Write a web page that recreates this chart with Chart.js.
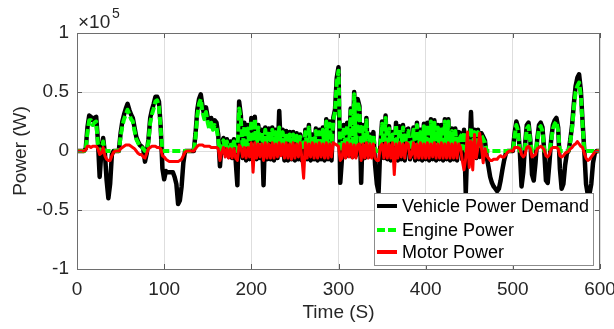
<!DOCTYPE html>
<html>
<head>
<meta charset="utf-8">
<script src="https://cdn.jsdelivr.net/npm/chart.js@4.4.1/dist/chart.umd.min.js"></script>
<style>
  html, body { margin: 0; padding: 0; background: #ffffff; }
</style>
</head>
<body>
<canvas id="powerChart" width="614" height="329"></canvas>
<script>
// time in seconds, one sample every 2 s
var timeS = [
    0, 2, 4, 6, 8, 10, 12, 14, 16, 18,
    20, 22, 24, 26, 28, 30, 32, 34, 36, 38,
    40, 42, 44, 46, 48, 50, 52, 54, 56, 58,
    60, 62, 64, 66, 68, 70, 72, 74, 76, 78,
    80, 82, 84, 86, 88, 90, 92, 94, 96, 98,
    100, 102, 104, 106, 108, 110, 112, 114, 116, 118,
    120, 122, 124, 126, 128, 130, 132, 134, 136, 138,
    140, 142, 144, 146, 148, 150, 152, 154, 156, 158,
    160, 162, 164, 166, 168, 170, 172, 174, 176, 178,
    180, 182, 184, 186, 188, 190, 192, 194, 196, 198,
    200, 202, 204, 206, 208, 210, 212, 214, 216, 218,
    220, 222, 224, 226, 228, 230, 232, 234, 236, 238,
    240, 242, 244, 246, 248, 250, 252, 254, 256, 258,
    260, 262, 264, 266, 268, 270, 272, 274, 276, 278,
    280, 282, 284, 286, 288, 290, 292, 294, 296, 298,
    300, 302, 304, 306, 308, 310, 312, 314, 316, 318,
    320, 322, 324, 326, 328, 330, 332, 334, 336, 338,
    340, 342, 344, 346, 348, 350, 352, 354, 356, 358,
    360, 362, 364, 366, 368, 370, 372, 374, 376, 378,
    380, 382, 384, 386, 388, 390, 392, 394, 396, 398,
    400, 402, 404, 406, 408, 410, 412, 414, 416, 418,
    420, 422, 424, 426, 428, 430, 432, 434, 436, 438,
    440, 442, 444, 446, 448, 450, 452, 454, 456, 458,
    460, 462, 464, 466, 468, 470, 472, 474, 476, 478,
    480, 482, 484, 486, 488, 490, 492, 494, 496, 498,
    500, 502, 504, 506, 508, 510, 512, 514, 516, 518,
    520, 522, 524, 526, 528, 530, 532, 534, 536, 538,
    540, 542, 544, 546, 548, 550, 552, 554, 556, 558,
    560, 562, 564, 566, 568, 570, 572, 574, 576, 578,
    580, 582, 584, 586, 588, 590, 592, 594, 596, 598,
    600
];

// power values in kW
var demandKW = [
    0, 0, 0, 0, 0, 2, 20, 30, 29, 26,
    28, 29, 9, -22, 0, 11, -2, -25, -40, -28,
    -3, 0, 0, 0, 0, 15, 25, 31, 36, 40,
    35, 31, 28, 20, 12, 8, 5, 4, 2, -9,
    -2, 10, 28, 35, 40, 46, 46, 42, 21, -15,
    -24, -17, -18, -18, -18, -18, -22, -28, -45, -42,
    -30, -10, 0, 0, 0, 0, 0, 0, 15, 35,
    44, 48, 38, 30, 37, 28, 22, 28, 22, 26,
    24, 14, -13, 6, 11, -2, 10, -5, 8, -6,
    10, -8, -29, 42, 30, -6, 24, -8, 22, -7,
    28, -8, 29, -7, 22, -6, 18, -29, 20, -7,
    19, -7, 20, -8, 18, -6, 34, -1, 18, -8,
    17, -8, 16, -7, 16, -8, 15, -7, 14, -8,
    -6, 18, -7, 22, -8, 14, -7, 19, -8, 18,
    -7, 20, -8, 27, -7, 25, -8, 28, 35, 62,
    71, -27, -6, 22, -5, 24, -4, 36, -5, 50,
    -4, 44, 38, -27, 22, -6, 28, -5, 14, -4,
    16, -12, -28, -35, 5, 25, -6, 30, -7, 21,
    -8, 16, -7, 24, -8, 21, -7, 22, -8, 18,
    19, -7, -2, 20, -8, 24, -7, 18, -8, 23,
    -7, 24, -8, 27, -7, 26, -8, 22, -7, 22,
    -8, 27, -7, 27, -8, 19, -7, 19, -8, 16,
    15, -7, 18, -36, 9, -6, 33, -5, 18, -6,
    18, -5, 15, 12, 9, -5, -13, -22, -27, -30,
    -32, -34, -32, -25, -16, -8, -2, 0, 0, 0,
    0, 15, 25, 20, 0, -30, -18, 5, 22, 24,
    10, -20, -25, -10, 10, 22, 24, 20, 0, -25,
    -27, -10, 10, 22, 26, 28, 20, -15, -32, -28,
    -12, -2, 0, 10, 22, 40, 55, 62, 65, 52,
    25, 0, -28, -37, -36, -28, -10, -2, 0, 0,
    0
];

var engineKW = [
    0, 0, 0, 0, 0, 1, 16, 26, 26, 22,
    24, 25, 6, 0, 0, 8, 0, 0, 0, 0,
    0, 0, 0, 0, 0, 12, 21, 27, 31, 35,
    31, 27, 25, 17, 10, 7, 4, 3, 2, 0,
    0, 8, 24, 31, 36, 42, 43, 38, 18, 0,
    0, 0, 0, 0, 0, 0, 0, 0, 0, 0,
    0, 0, 0, 0, 0, 0, 0, 0, 12, 30,
    40, 44, 33, 27, 33, 24, 18, 24, 18, 22,
    20, 10, 0, 5, 9, 2, 8, 1, 7, 2,
    8, 0, 0, 36, 26, 2, 21, 2, 19, 3,
    26, 3, 27, 2, 20, 3, 16, 0, 18, 2,
    17, 2, 18, 3, 16, 2, 20, 1, 16, 3,
    15, 2, 14, 3, 14, 2, 13, 3, 12, 1,
    2, 16, 3, 20, 2, 12, 3, 17, 2, 16,
    2, 18, 3, 25, 2, 23, 3, 26, 33, 58,
    68, 0, 2, 20, 3, 22, 2, 34, 3, 48,
    2, 42, 35, 0, 20, 2, 26, 3, 12, 2,
    14, 2, 0, 0, 4, 23, 2, 28, 3, 19,
    2, 14, 3, 22, 2, 19, 3, 20, 2, 16,
    17, 2, 1, 18, 3, 22, 2, 16, 2, 21,
    2, 22, 3, 25, 2, 24, 3, 20, 2, 20,
    3, 25, 2, 25, 3, 17, 2, 17, 3, 14,
    13, 2, 16, 0, 7, 2, 20, 2, 16, 2,
    16, 2, 13, 10, 7, 0, 0, 0, 0, 0,
    0, 0, 0, 0, 0, 0, 0, 0, 0, 0,
    0, 12, 22, 17, 0, 0, 0, 3, 19, 21,
    8, 0, 0, 0, 8, 19, 21, 17, 0, 0,
    0, 0, 8, 19, 23, 25, 17, 0, 0, 0,
    0, 0, 0, 8, 19, 36, 50, 55, 58, 47,
    22, 0, 0, 0, 0, 0, 0, 0, 0, 0,
    0
];

var motorKW = [
    0, 0, 0, 0, 0, 1, 4, 4, 3, 4,
    4, 4, 2, -3, -2, 3, -4, -7, -8, -8,
    -4, -1, 0, 0, 0, 2, 3, 4, 5, 5,
    5, 4, 3, 2, 0, -2, -3, -3, -5, -6,
    -2, 2, 3, 4, 4, 4, 3, 3, 2, -4,
    -5, -7, -8, -9, -9, -9, -9, -9, -9, -8,
    -7, -4, -1, 0, 0, 0, 0, 0, 2, 4,
    5, 5, 5, 4, 4, 4, 4, 3, 3, 3,
    3, 2, -8, -1, 3, -5, 2, -6, 2, -6,
    2, -6, -8, 5, 3, -5, 3, -6, 3, -5,
    7, -18, 7, -6, 6, -5, 6, -8, 7, -6,
    6, -6, 7, -6, 6, -5, 7, -4, 6, -6,
    7, -6, 6, -7, 7, -6, 6, -5, 7, -6,
    -23, 7, -6, 6, -5, 7, -6, 6, -6, 7,
    -5, 6, -6, 7, -6, 6, -5, 7, 6, 5,
    4, -8, -6, 6, -6, 7, -5, 6, -6, 5,
    -6, 5, 6, -8, 6, -6, 7, -6, 6, -6,
    6, -6, -8, -8, 4, 6, -6, 7, -6, 6,
    -6, 7, -20, 6, -6, 7, -5, 6, -6, 7,
    6, -6, -3, 7, -6, 6, -6, 7, -6, 6,
    -6, 7, -6, 6, -5, 7, -6, 6, -6, 7,
    -6, 6, -6, 7, -6, 6, -6, 7, -6, 6,
    3, -8, -16, -6, 16, -14, 8, -16, 14, -6,
    3, 15, 3, -10, 2, -4, -6, -8, -8, -7,
    -7, -7, -5, -4, -5, -5, -3, -1, 0, 0,
    0, 3, 3, 3, 2, -3, -5, -3, 3, 4,
    2, -5, -4, -3, 2, 3, 4, 3, 1, -4,
    -5, -3, 2, 3, 3, 3, 2, -4, -5, -4,
    -2, -1, 0, 2, 3, 5, 6, 8, 6, 4,
    3, -2, -6, -8, -7, -5, -3, -1, 0, 0,
    0
];

var seriesNames = ['Vehicle Power Demand', 'Engine Power', 'Motor Power'];
var xTicks = [0, 100, 200, 300, 400, 500, 600];
var yTicks = [-1e5, -0.5e5, 0, 0.5e5, 1e5];

var fontFamily = '"Liberation Sans", Arial, Helvetica, sans-serif';

function toPoints(values) {
    return timeS.map(function (t, i) {
        return { x: t, y: values[i] * 1000 };
    });
}

// box, inner tick marks, x10^5 label and the legend in the lower right
var matlabFrame = {
    id: 'matlabFrame',
    afterDraw: function (chart) {
        var ctx = chart.ctx;
        var a = chart.chartArea;
        var xs = chart.scales.x, ys = chart.scales.y;
        ctx.save();

        // inner ticks
        ctx.strokeStyle = '#5a5a5a';
        ctx.lineWidth = 1;
        ctx.beginPath();
        xTicks.forEach(function (v) {
            var px = Math.round(xs.getPixelForValue(v)) + 0.5;
            ctx.moveTo(px, a.bottom); ctx.lineTo(px, a.bottom - 5);
            ctx.moveTo(px, a.top); ctx.lineTo(px, a.top + 5);
        });
        yTicks.forEach(function (v) {
            var py = Math.round(ys.getPixelForValue(v)) + 0.5;
            ctx.moveTo(a.left, py); ctx.lineTo(a.left + 5, py);
            ctx.moveTo(a.right, py); ctx.lineTo(a.right - 5, py);
        });
        ctx.stroke();

        // axes box
        ctx.strokeStyle = '#6e6e6e';
        ctx.strokeRect(Math.round(a.left) + 0.5, Math.round(a.top) + 0.5,
            Math.round(a.right - a.left) - 1, Math.round(a.bottom - a.top));

        // exponent label
        ctx.fillStyle = '#262626';
        ctx.textBaseline = 'alphabetic';
        ctx.textAlign = 'left';
        ctx.font = '19px ' + fontFamily;
        ctx.fillText('\u00d710', a.left + 1, a.top - 5);
        ctx.font = '14px ' + fontFamily;
        ctx.fillText('5', a.left + 35, a.top - 15);

        // legend
        var lw = 219, lh = 72;
        var lx = a.right - 226, ly = a.bottom - 76;
        ctx.fillStyle = '#ffffff';
        ctx.fillRect(lx, ly, lw, lh);
        ctx.strokeStyle = '#8c8c8c';
        ctx.lineWidth = 1;
        ctx.strokeRect(lx + 0.5, ly + 0.5, lw, lh);

        var rowsY = [13, 37, 59];
        chart.data.datasets.forEach(function (ds, i) {
            var cy = ly + rowsY[i];
            ctx.beginPath();
            ctx.strokeStyle = ds.borderColor;
            ctx.lineWidth = 4;
            ctx.setLineDash(ds.borderDash || []);
            ctx.moveTo(lx + 3, cy);
            ctx.lineTo(lx + 23, cy);
            ctx.stroke();
            ctx.setLineDash([]);
            ctx.fillStyle = '#000000';
            ctx.font = '18px ' + fontFamily;
            ctx.textBaseline = 'middle';
            ctx.fillText(ds.label, lx + 28, cy + 1);
        });
        ctx.restore();
    }
};

var datos = {
    datasets: [
        {
            label: seriesNames[0],
            data: toPoints(demandKW),
            borderColor: '#000000',
            borderWidth: 4.5,
            order: 3
        },
        {
            label: seriesNames[1],
            data: toPoints(engineKW),
            borderColor: '#00ff00',
            borderWidth: 4,
            borderDash: [8, 3],
            order: 2
        },
        {
            label: seriesNames[2],
            data: toPoints(motorKW),
            borderColor: '#ff0000',
            borderWidth: 3,
            order: 1
        }
    ]
};

var opciones = {
    responsive: false,
    animation: false,
    layout: { padding: { top: 33, right: 14, left: 0, bottom: 0 } },
    elements: {
        point: { radius: 0 },
        line: { tension: 0, borderJoinStyle: 'round', fill: false }
    },
    plugins: {
        legend: { display: false },
        tooltip: { enabled: false }
    },
    scales: {
        x: {
            type: 'linear',
            min: 0,
            max: 600,
            afterBuildTicks: function (scale) {
                scale.ticks = xTicks.map(function (v) { return { value: v }; });
            },
            afterFit: function (scale) {
                scale.height = 60;
                scale.paddingLeft = 0;
                scale.paddingRight = 0;
            },
            grid: { color: '#dedede', drawTicks: false },
            border: { display: false },
            ticks: {
                padding: 9,
                color: '#262626',
                font: { family: fontFamily, size: 19 },
                maxRotation: 0
            },
            title: {
                display: true,
                text: 'Time (S)',
                color: '#262626',
                font: { family: fontFamily, size: 19 },
                padding: { top: 0, bottom: 5 }
            }
        },
        y: {
            min: -1e5,
            max: 1e5,
            afterBuildTicks: function (scale) {
                scale.ticks = yTicks.map(function (v) { return { value: v }; });
            },
            afterFit: function (scale) {
                scale.width = 77;
                scale.paddingTop = 0;
                scale.paddingBottom = 0;
            },
            grid: { color: '#dedede', drawTicks: false },
            border: { display: false },
            ticks: {
                padding: 8,
                color: '#262626',
                font: { family: fontFamily, size: 19 },
                callback: function (v) { return String(v / 1e5); }
            },
            title: {
                display: true,
                text: 'Power (W)',
                color: '#262626',
                font: { family: fontFamily, size: 19 },
                padding: { top: 9, bottom: 0 }
            }
        }
    }
};

var contexto = document.getElementById('powerChart').getContext('2d');
var grafico = new Chart(contexto, {
    type: 'line',
    data: datos,
    options: opciones,
    plugins: [matlabFrame]
});
</script>
</body>
</html>
